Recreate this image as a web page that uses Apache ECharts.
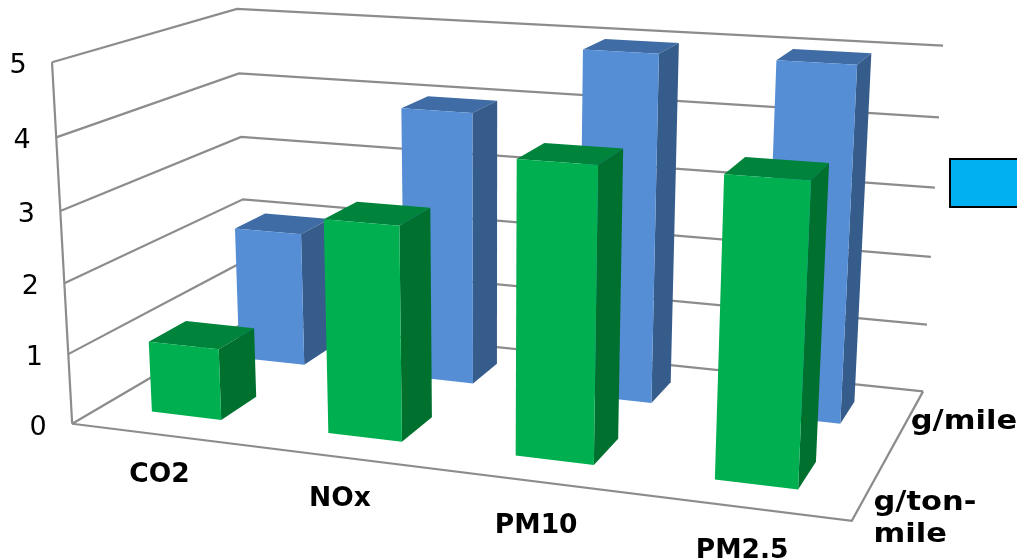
<!DOCTYPE html>
<html>
<head>
<meta charset="utf-8">
<style>html,body{margin:0;padding:0;background:#fff;overflow:hidden}#chart{width:1017px;height:560px}</style>
<script src="https://cdn.jsdelivr.net/npm/echarts@6/dist/echarts.min.js"></script>
</head>
<body>
<div id="chart"></div>
<script>
// Emissions by pollutant, two rows of 3D columns
const categories = ['CO2', 'NOx', 'PM10', 'PM2.5'];
const rowNames = ['g/ton-\nmile', 'g/mile'];
const gPerTonMile = [1.02, 2.98, 3.98, 3.98];
const gPerMile = [2.01, 3.99, 4.97, 4.97];
const valueTicks = [0, 1, 2, 3, 4, 5];

// Where the corners of the plot box (category, depth, height; each 0..1) land on the page
const boxCorners = [
  [0, 0, 0, 72, 422], [0, 0, 1, 52, 63], [0, 1, 0, 247, 323], [0, 1, 1, 237, 8],
  [1, 1, 0, 923, 390], [1, 1, 1, 943, 46], [1, 0, 0, 852, 522]
];
const barShare = 0.40;       // column width as a share of a category band
const barShift = -0.003;     // columns sit a touch left of the band centre
const rowSpan = [[0.155, 0.358], [0.66, 0.85]];   // depth taken by each row
const categoryNudge = [[0, 41], [-2, 42], [0, 45], [-1, 44]];
const rowNudge = [[1, 36], [3, 3]];

// Fit the camera: a 3x4 projective matrix with its last entry fixed at 1
function fitCamera(points) {
  const A = [], b = [];
  points.forEach(([u, v, w, x, y]) => {
    const X = x / 1000, Y = y / 1000;
    A.push([u, v, w, 1, 0, 0, 0, 0, -X * u, -X * v, -X * w]); b.push(X);
    A.push([0, 0, 0, 0, u, v, w, 1, -Y * u, -Y * v, -Y * w]); b.push(Y);
  });
  const n = 11;
  const M = [];
  for (let i = 0; i < n; i++) {
    const row = [];
    for (let j = 0; j < n; j++) row.push(A.reduce((s, r) => s + r[i] * r[j], 0));
    row.push(A.reduce((s, r, k) => s + r[i] * b[k], 0));
    M.push(row);
  }
  for (let i = 0; i < n; i++) {
    let p = i;
    for (let r = i + 1; r < n; r++) if (Math.abs(M[r][i]) > Math.abs(M[p][i])) p = r;
    [M[i], M[p]] = [M[p], M[i]];
    for (let r = 0; r < n; r++) {
      if (r === i) continue;
      const f = M[r][i] / M[i][i];
      for (let c = i; c <= n; c++) M[r][c] -= f * M[i][c];
    }
  }
  return M.map((r, i) => r[n] / r[i]);
}
const cam = fitCamera(boxCorners);
function project(u, v, w) {
  const d = cam[8] * u + cam[9] * v + cam[10] * w + 1;
  return [
    1000 * (cam[0] * u + cam[1] * v + cam[2] * w + cam[3]) / d,
    1000 * (cam[4] * u + cam[5] * v + cam[6] * w + cam[7]) / d
  ];
}

// The hidden grid supplies the scales; its pixels are turned into box fractions
function toBox(params, api, cat, value) {
  const r = params.coordSys;
  const p = api.coord([cat, value]);
  return { u: (p[0] - r.x) / r.width, w: (r.y + r.height - p[1]) / r.height, band: api.size([1, 0])[0] / r.width };
}

const wallStroke = { stroke: '#8c8c8c', lineWidth: 2.2, fill: null };
function polyline(points) {
  return { type: 'polyline', shape: { points }, style: wallStroke, silent: true };
}
function face(points, fill) {
  return { type: 'polygon', shape: { points }, style: { fill }, silent: true };
}
function label(text, x, y, font, align, scaleX) {
  return {
    type: 'text', x, y, scaleX: scaleX || 1, silent: true,
    style: { text, font, fill: '#000', textAlign: align || 'center', textVerticalAlign: 'middle', lineHeight: 32 }
  };
}

function renderColumn(row, colors) {
  return function (params, api) {
    const cat = api.value(0), val = api.value(1);
    const b = toBox(params, api, cat, val);
    const u0 = b.u + barShift - b.band * barShare / 2, u1 = b.u + barShift + b.band * barShare / 2;
    const [v0, v1] = rowSpan[row];
    const w = b.w;
    return {
      type: 'group',
      children: [
        face([project(u0, v0, w), project(u1, v0, w), project(u1, v1, w), project(u0, v1, w)], colors.top),
        face([project(u1, v0, 0), project(u1, v1, 0), project(u1, v1, w), project(u1, v0, w)], colors.side),
        face([project(u0, v0, 0), project(u1, v0, 0), project(u1, v0, w), project(u0, v0, w)], colors.front)
      ]
    };
  };
}

function renderWallLine(params, api) {
  const b = toBox(params, api, 0, api.value(0));
  const w = b.w;
  const pts = [project(0, 0, w), project(0, 1, w), project(1, 1, w)];
  const tick = project(0, 0, w);
  const children = [polyline(pts), label(String(api.value(0)), tick[0] - 34, tick[1] + 4, '27px "DejaVu Sans"')];
  if (api.value(0) === valueTicks[0]) {
    children.push(polyline([project(0, 0, 0), project(1, 0, 0), project(1, 1, 0)]));
    children.push(polyline([project(0, 0, 0), project(0, 0, 1)]));
  }
  return { type: 'group', children };
}

function renderCategoryLabel(params, api) {
  const i = api.value(0);
  const b = toBox(params, api, i, 0);
  const p = project(b.u, 0, 0);
  return label(categories[i], p[0] + categoryNudge[i][0], p[1] + categoryNudge[i][1], 'bold 26.5px "DejaVu Sans"');
}

function renderRowLabel(params, api) {
  const i = api.value(0);
  const v = (rowSpan[i][0] + rowSpan[i][1]) / 2;
  const p = project(1, v, 0);
  return label(rowNames[i], p[0] + rowNudge[i][0], p[1] + rowNudge[i][1], 'bold 26.5px "DejaVu Sans"', 'left', 1.15);
}

const chart = echarts.init(document.getElementById('chart'));
chart.setOption({
  animation: false,
  backgroundColor: '#fff',
  grid: { left: 0, top: 0, width: 1000, height: 500, show: false },
  xAxis: { type: 'category', data: categories, show: false },
  yAxis: { type: 'value', min: valueTicks[0], max: valueTicks[valueTicks.length - 1], interval: 1, show: false },
  graphic: [{
    type: 'rect', left: 949, top: 158, silent: true,
    shape: { width: 90, height: 48 },
    style: { fill: '#00b0f0', stroke: '#000', lineWidth: 2 }
  }],
  series: [
    { type: 'custom', silent: true, data: valueTicks.map(t => [t]), encode: { x: -1, y: 0 }, renderItem: renderWallLine },
    {
      type: 'custom', name: rowNames[1], silent: true,
      data: gPerMile.map((v, i) => [i, v]), encode: { x: 0, y: 1 },
      renderItem: renderColumn(1, { front: '#558ed5', top: '#3f6ca4', side: '#365c8c' })
    },
    {
      type: 'custom', name: rowNames[0], silent: true,
      data: gPerTonMile.map((v, i) => [i, v]), encode: { x: 0, y: 1 },
      renderItem: renderColumn(0, { front: '#00b050', top: '#00843c', side: '#00702f' })
    },
    { type: 'custom', silent: true, data: categories.map((c, i) => [i, 0]), encode: { x: 0, y: 1 }, renderItem: renderCategoryLabel },
    { type: 'custom', silent: true, data: rowNames.map((c, i) => [i, 0]), encode: { x: 0, y: 1 }, renderItem: renderRowLabel }
  ]
});
</script>
</body>
</html>
